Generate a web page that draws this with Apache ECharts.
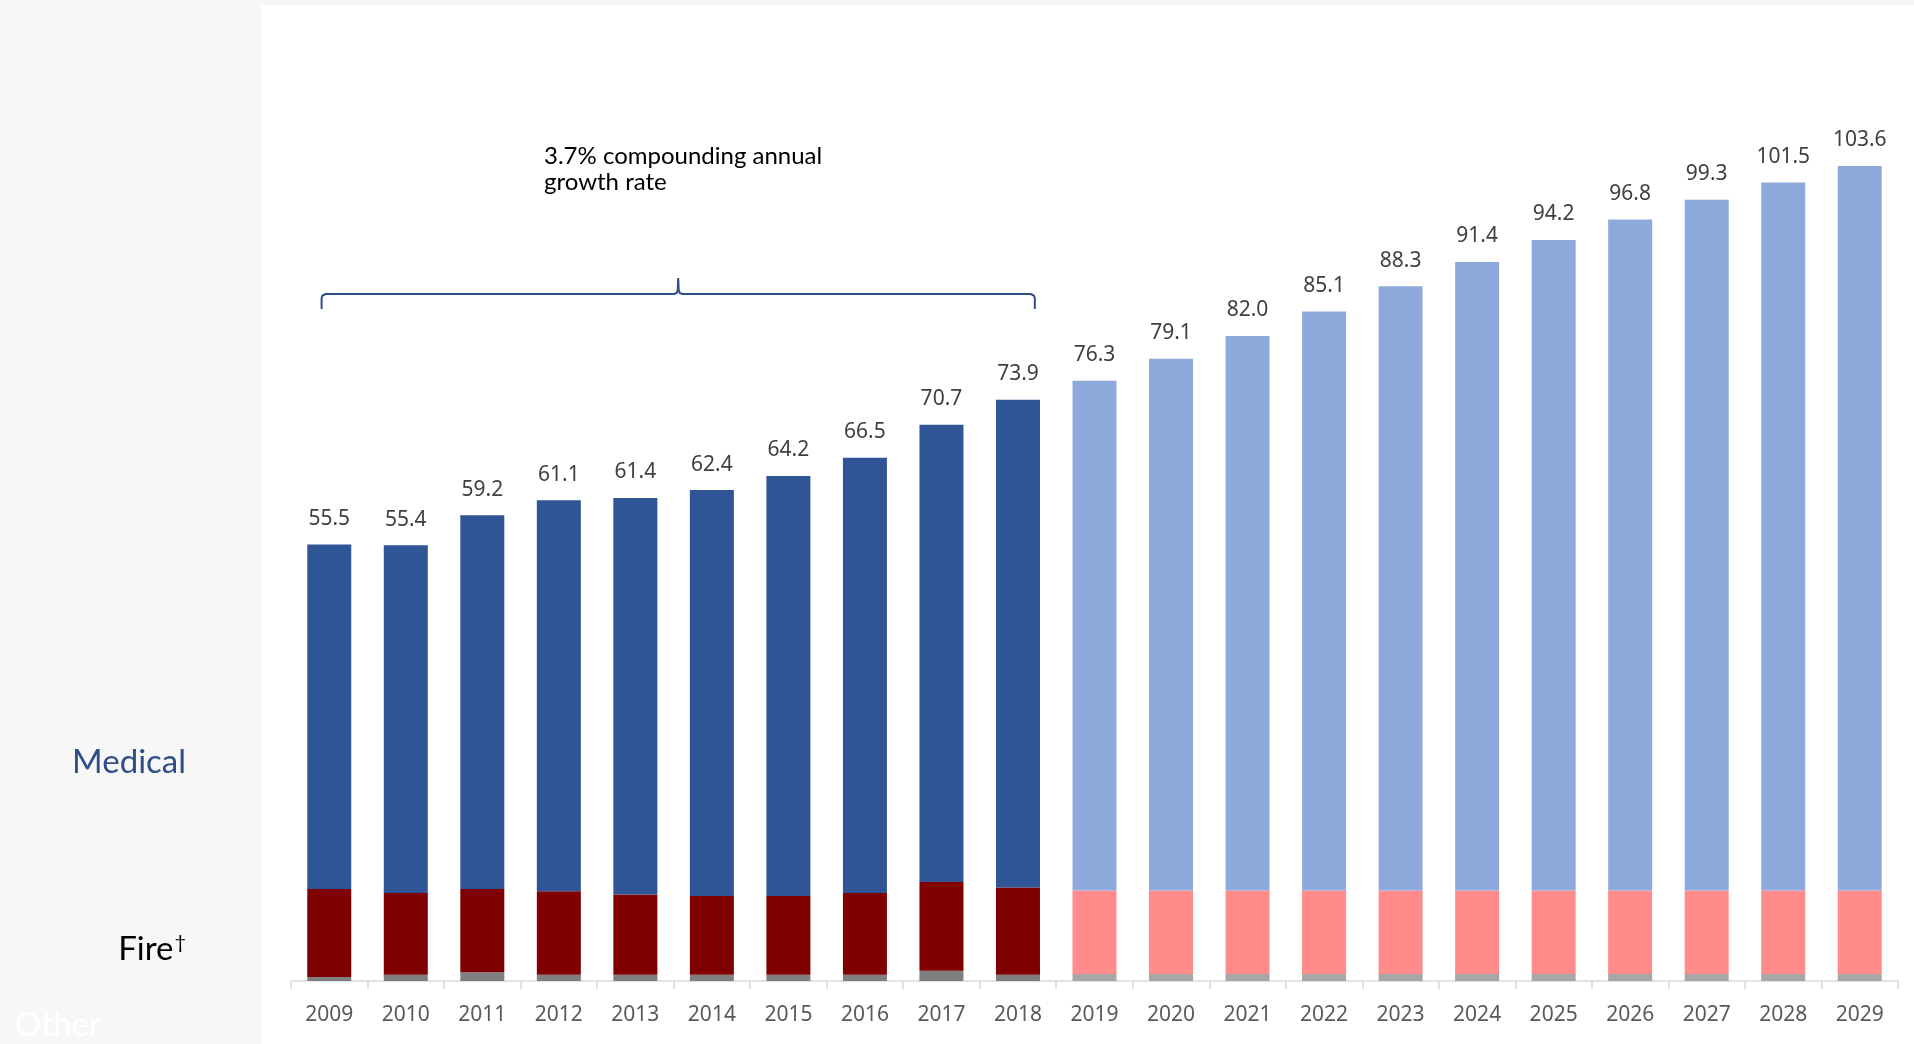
<!DOCTYPE html>
<html>
<head>
<meta charset="utf-8">
<style>
html,body{margin:0;padding:0;background:#f7f7f7;}
#chart{width:1914px;height:1044px;}
</style>
<script src="https://cdn.jsdelivr.net/npm/echarts@6.0.0/dist/echarts.min.js"></script>
</head>
<body>
<div id="chart"></div>
<script>
const years = ['2009','2010','2011','2012','2013','2014','2015','2016','2017','2018','2019','2020','2021','2022','2023','2024','2025','2026','2027','2028','2029'];
const totals = [55.5,55.4,59.2,61.1,61.4,62.4,64.2,66.5,70.7,73.9,76.3,79.1,82.0,85.1,88.3,91.4,94.2,96.8,99.3,101.5,103.6];
const otherVals = [0.5,0.8,1.1,0.8,0.8,0.8,0.8,0.8,1.3,0.8,0.9,0.9,0.9,0.9,0.9,0.9,0.9,0.9,0.9,0.9,0.9];
const fireVals = [11.2,10.4,10.6,10.6,10.2,10.0,10.0,10.4,11.3,11.1,10.6,10.6,10.6,10.6,10.6,10.6,10.6,10.6,10.6,10.6,10.6];
const medicalVals = [43.8,44.2,47.5,49.7,50.4,51.6,53.4,55.3,58.1,62.0,64.8,67.6,70.5,73.6,76.8,79.9,82.7,85.3,87.8,90.0,92.1];
const forecastStart = 10; // index of 2019
const cagrText = '3.7% compounding annual\ngrowth rate';

const chart = echarts.init(document.getElementById('chart'));

function colorBy(hist, fc) {
  return p => (p.dataIndex < forecastStart ? hist : fc);
}

const baseGraphic = [
  { id: 'panel', type: 'rect', z: -10, shape: { x: 261, y: 5, width: 1653, height: 1039 }, style: { fill: '#ffffff' } },
  { id: 'medLbl', type: 'text', x: 186, y: 762, style: { text: 'Medical', fill: '#2f4d87', font: '33px Lato', align: 'right', verticalAlign: 'middle' } },
  { id: 'fireLbl', type: 'text', x: 186, y: 949, style: { text: '{a|Fire}{b|\u2020}', fill: '#000000', align: 'right', verticalAlign: 'middle',
      rich: { a: { fontSize: 33, fontFamily: 'Lato', fill: '#000000', height: 40 }, b: { fontSize: 20, fontFamily: 'Lato', fill: '#000000', verticalAlign: 'top', height: 40, padding: [0, 0, 12, 1] } } } },
  { id: 'otherLbl', type: 'text', x: 15, y: 1025, style: { text: 'Other', fill: '#ffffff', font: '33px Lato', align: 'left', verticalAlign: 'middle' } },
  { id: 'cagr', type: 'text', x: 544, y: 143, style: { text: cagrText, fill: '#000000', font: '24px Lato', lineHeight: 26, align: 'left', verticalAlign: 'top' } }
];

chart.setOption({
  backgroundColor: '#f7f7f7',
  animation: false,
  grid: { left: 291, right: 16, top: 37, bottom: 63, containLabel: false },
  xAxis: {
    type: 'category',
    data: years,
    axisLine: { lineStyle: { color: '#d9d9d9', width: 1.5 } },
    axisTick: { show: true, length: 8, lineStyle: { color: '#d9d9d9', width: 1.5 } },
    axisLabel: { color: '#595959', fontSize: 21, fontFamily: 'Noto Sans', margin: 24 }
  },
  yAxis: {
    type: 'value', min: 0, max: 120,
    show: false,
    splitLine: { show: false }
  },
  series: [
    { name: 'Other', type: 'bar', stack: 'total', barCategoryGap: '42.5%', data: otherVals,
      itemStyle: { color: colorBy('#7f7f7f', '#a6a6a6') } },
    { name: 'Fire', type: 'bar', stack: 'total', data: fireVals,
      itemStyle: { color: colorBy('#800000', '#ff8b8b') } },
    { name: 'Medical', type: 'bar', stack: 'total', data: medicalVals,
      itemStyle: { color: colorBy('#2f5597', '#8eaadc') },
      label: { show: true, position: 'top', distance: 15, color: '#404040', fontSize: 21, fontFamily: 'Noto Sans',
        formatter: p => totals[p.dataIndex].toFixed(1) } }
  ],
  graphic: baseGraphic
});

// bracket spanning the historical period, positioned from the axis scale
const c0 = chart.convertToPixel({ xAxisIndex: 0 }, years[0]);
const c1 = chart.convertToPixel({ xAxisIndex: 0 }, years[1]);
const cEnd = chart.convertToPixel({ xAxisIndex: 0 }, years[forecastStart - 1]);
const band = c1 - c0;
const L = c0 - 0.1 * band, R = cEnd + 0.22 * band, M = (L + R) / 2;
const yLine = 294, yEnd = 309, yPeak = 278;
const pts = [
  [L, yEnd], [L, yLine + 4], [L + 1, yLine + 1.5], [L + 4, yLine],
  [M - 4, yLine], [M - 1.5, yLine - 1], [M - 0.5, yLine - 4], [M, yPeak],
  [M + 0.5, yLine - 4], [M + 1.5, yLine - 1], [M + 4, yLine],
  [R - 4, yLine], [R - 1, yLine + 1.5], [R, yLine + 4], [R, yEnd]
];
chart.setOption({
  graphic: baseGraphic.concat([
    { id: 'bracket', type: 'polyline', shape: { points: pts }, style: { stroke: '#2f4d87', lineWidth: 2, fill: null } }
  ])
});
</script>
</body>
</html>
